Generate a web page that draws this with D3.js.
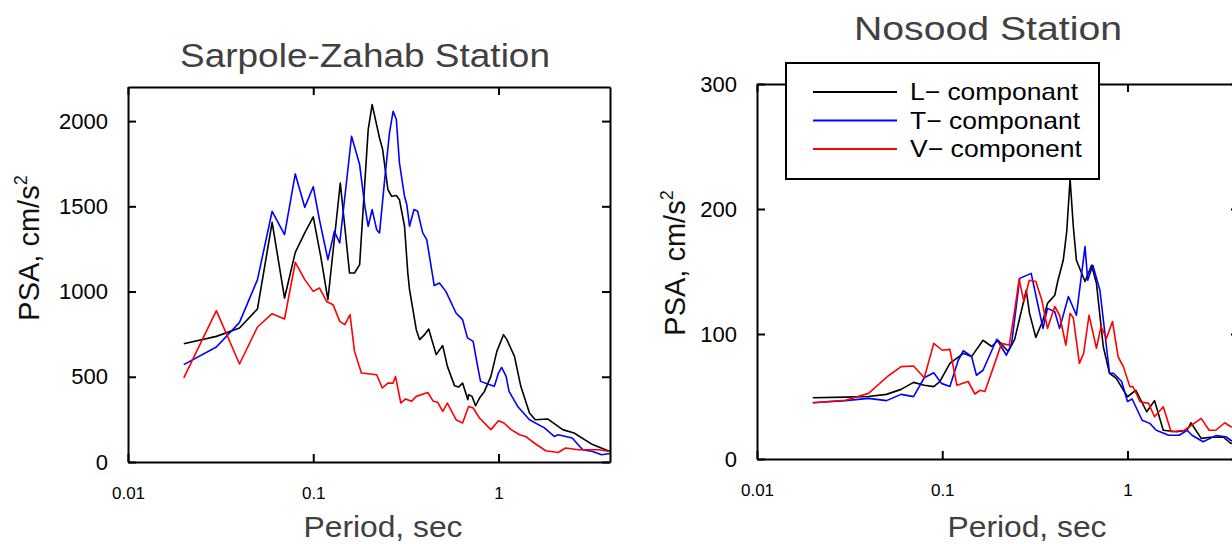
<!DOCTYPE html>
<html>
<head>
<meta charset="utf-8">
<script src="https://cdn.jsdelivr.net/npm/d3@7"></script>
<style>
body { margin: 0; background: #fff; }
text { font-family: "Liberation Sans", Arial, sans-serif; }
</style>
</head>
<body>
<div id="chart"></div>
<script>
// Sarpole-Zahab station, [period sec, PSA cm/s2]
var szL = [[0.02,694],[0.03,737],[0.04,786],[0.05,898],[0.06,1406],[0.07,962],[0.08,1230],[0.09,1344],[0.1,1438],[0.11,1200],[0.12,952],[0.14,1637],[0.157,1109],[0.167,1109],[0.178,1158],[0.198,1950],[0.208,2097],[0.228,1901],[0.237,1833],[0.253,1598],[0.265,1559],[0.281,1563],[0.292,1539],[0.311,1383],[0.324,1109],[0.331,1011],[0.36,776],[0.375,718],[0.399,747],[0.42,780],[0.461,630],[0.5,683],[0.53,561],[0.579,448],[0.61,440],[0.64,463],[0.683,366],[0.69,395],[0.72,385],[0.752,330],[0.79,375],[0.84,414],[0.91,502],[0.98,649],[1.064,747],[1.11,718],[1.22,620],[1.32,444],[1.47,288],[1.58,248],[1.85,252],[2.22,190],[2.56,170],[3.22,102],[4,62]];
var szT = [[0.02,571],[0.03,675],[0.04,819],[0.05,1070],[0.06,1471],[0.07,1334],[0.08,1690],[0.09,1494],[0.1,1615],[0.108,1422],[0.12,1187],[0.13,1353],[0.139,1285],[0.161,1911],[0.178,1745],[0.19,1500],[0.198,1383],[0.208,1481],[0.22,1363],[0.228,1344],[0.243,1657],[0.258,1931],[0.27,2058],[0.281,2009],[0.292,1755],[0.311,1559],[0.32,1510],[0.331,1383],[0.35,1481],[0.366,1471],[0.39,1344],[0.41,1305],[0.45,1035],[0.48,1050],[0.52,1001],[0.59,874],[0.64,835],[0.68,728],[0.73,708],[0.76,600],[0.8,473],[0.89,454],[0.95,444],[1.0,522],[1.04,555],[1.1,502],[1.14,414],[1.27,326],[1.47,248],[1.77,200],[2.0,150],[2.1,160],[2.5,141],[2.85,72],[3.22,62],[3.6,43],[4,50]];
var szV = [[0.02,493],[0.03,888],[0.04,575],[0.05,792],[0.06,870],[0.07,839],[0.08,1171],[0.09,1070],[0.1,1001],[0.108,1021],[0.118,942],[0.128,923],[0.139,825],[0.148,806],[0.158,864],[0.167,649],[0.182,522],[0.198,518],[0.22,512],[0.236,434],[0.253,463],[0.27,463],[0.278,502],[0.297,346],[0.315,370],[0.34,356],[0.36,385],[0.415,408],[0.445,356],[0.47,350],[0.5,297],[0.53,346],[0.59,248],[0.64,229],[0.69,326],[0.73,317],[0.79,258],[0.91,190],[1.0,242],[1.07,229],[1.17,190],[1.3,160],[1.4,150],[1.58,107],[1.8,66],[2.1,56],[2.3,82],[2.7,72],[3.0,72],[3.5,72],[4,62]];

// Nosood station
var nsL = [[0.02,49],[0.03,49.5],[0.04,50],[0.05,51.7],[0.06,55.7],[0.07,61.3],[0.08,59],[0.09,57.9],[0.097,61.9],[0.11,76.5],[0.13,84.5],[0.144,81.9],[0.166,95],[0.185,90],[0.2,95],[0.227,86],[0.246,95.7],[0.268,119],[0.284,135],[0.296,116.5],[0.32,97.3],[0.35,111],[0.37,124.5],[0.405,131],[0.42,142],[0.45,159],[0.47,182],[0.49,224],[0.51,186],[0.53,159],[0.59,142],[0.64,155],[0.68,140.5],[0.74,90],[0.8,68.6],[0.87,64.5],[1.0,49.8],[1.11,55],[1.27,37.8],[1.4,46.7],[1.56,23],[1.84,21.8],[2.1,23],[2.2,29],[2.5,16.5],[2.8,17.4],[3.3,17.4],[3.6,12.6],[4,12]];
var nsT = [[0.02,45],[0.03,46.7],[0.04,48.5],[0.05,46.7],[0.06,51.7],[0.07,49.9],[0.08,65],[0.09,69],[0.099,60.5],[0.11,58],[0.122,79],[0.13,86.6],[0.144,82],[0.153,67],[0.166,71],[0.197,95.8],[0.222,83],[0.237,92.5],[0.262,144.5],[0.302,148.5],[0.33,122],[0.35,104.5],[0.37,120.5],[0.405,117.8],[0.43,104.5],[0.48,130],[0.53,115],[0.59,170],[0.61,143],[0.65,155],[0.71,135],[0.8,68.6],[0.84,68.6],[0.93,62],[1.0,46],[1.06,48],[1.2,31],[1.32,28.5],[1.43,23],[1.67,19],[1.9,19],[2.1,23],[2.23,19],[2.56,13.8],[3.0,18.7],[3.4,17.8],[3.6,15],[4,12]];
var nsV = [[0.02,45],[0.03,47],[0.04,52.5],[0.051,66.4],[0.06,73.9],[0.07,74.4],[0.08,65],[0.09,92.5],[0.1,87],[0.11,87.7],[0.12,59],[0.138,62],[0.15,52],[0.16,55],[0.17,54],[0.192,76.5],[0.209,92.5],[0.23,91],[0.246,119],[0.26,143.7],[0.276,126],[0.295,143],[0.32,142],[0.345,127],[0.37,104.5],[0.405,122],[0.43,115],[0.465,91],[0.49,116.5],[0.51,113],[0.55,76.5],[0.58,84.5],[0.62,115],[0.68,88.6],[0.72,106],[0.77,96.5],[0.83,110],[0.89,81.8],[0.95,73.9],[1.03,57.9],[1.07,58],[1.17,45.8],[1.3,44.5],[1.4,33.8],[1.56,41.8],[1.72,21.8],[2.03,23],[2.5,32.5],[2.76,23],[3.0,23],[3.35,29],[3.6,26],[4,25]];

var xTicks = [0.01, 0.1, 1];
var szYTicks = [0, 500, 1000, 1500, 2000];
var nsYTicks = [0, 100, 200, 300];
var legendNames = ["L\u2212 componant", "T\u2212 componant", "V\u2212 component"];
var colors = ["#000000", "#0000ff", "#ff0000"];

var svg = d3.select("#chart").append("svg")
	.attr("width", 1232)
	.attr("height", 544);

function panel(p) {
	var x = d3.scaleLog().domain([0.01, 4]).range([p.left, p.right]);
	var y = d3.scaleLinear().domain([0, p.yMax]).range([p.bottom, p.top]);
	var g = svg.append("g");

	var line = d3.line()
		.x(function(d) {return x(d[0]);})
		.y(function(d) {return y(d[1]);});

	g.append("g").selectAll("path")
		.data(p.series)
		.enter().append("path")
		.attr("d", line)
		.attr("fill", "none")
		.attr("stroke", function(d, i) {return colors[i];})
		.attr("stroke-width", 1.6)
		.attr("stroke-linejoin", "round");

	// bottom / top / left / right axes, ticks pointing inward
	var bottom = g.append("g")
		.attr("transform", "translate(0," + p.bottom + ")")
		.call(d3.axisBottom(x).tickValues(xTicks).tickSizeInner(-8).tickSizeOuter(0).tickPadding(25)
			.tickFormat(function(d) {return d;}));
	bottom.selectAll("text").attr("font-size", 17).attr("fill", "#000");

	g.append("g")
		.attr("transform", "translate(0," + p.top + ")")
		.call(d3.axisTop(x).tickValues(xTicks).tickSizeInner(-8).tickSizeOuter(0).tickFormat(""));

	var left = g.append("g")
		.attr("transform", "translate(" + p.left + ",0)")
		.call(d3.axisLeft(y).tickValues(p.yTicks).tickSizeInner(-8).tickSizeOuter(0).tickPadding(20)
			.tickFormat(d3.format("d")));
	left.selectAll("text").attr("font-size", 22).attr("fill", "#000");

	g.append("g")
		.attr("transform", "translate(" + p.right + ",0)")
		.call(d3.axisRight(y).tickValues(p.yTicks).tickSizeInner(-8).tickSizeOuter(0).tickFormat(""));

	g.selectAll(".domain").attr("stroke", "#000").attr("stroke-width", 2);
	g.selectAll(".tick line").attr("stroke", "#000").attr("stroke-width", 2);

	// titles
	g.append("text")
		.attr("x", p.titleX).attr("y", p.titleY)
		.attr("text-anchor", "middle")
		.attr("font-size", 33)
		.attr("fill", "#404040")
		.attr("textLength", p.titleLen)
		.attr("lengthAdjust", "spacingAndGlyphs")
		.text(p.title);

	g.append("text")
		.attr("x", p.xLabelX).attr("y", 537)
		.attr("text-anchor", "middle")
		.attr("font-size", 30)
		.attr("fill", "#404040")
		.attr("textLength", 159)
		.attr("lengthAdjust", "spacingAndGlyphs")
		.text("Period, sec");

	var yl = g.append("text")
		.attr("transform", "translate(" + p.yLabelX + "," + p.yLabelY + ") rotate(-90)")
		.attr("text-anchor", "middle")
		.attr("font-size", 29)
		.attr("fill", "#111");
	yl.append("tspan").text("PSA, cm/s");
	yl.append("tspan").attr("font-size", 18).attr("dy", -12).text("2");

	return {x: x, y: y, g: g};
}

panel({
	left: 128, right: 610, top: 87, bottom: 462, yMax: 2200,
	yTicks: szYTicks, series: [szL, szT, szV],
	title: "Sarpole-Zahab Station", titleX: 365, titleY: 67, titleLen: 370,
	xLabelX: 383, yLabelX: 39, yLabelY: 248
});

panel({
	left: 757, right: 1239, top: 84, bottom: 459, yMax: 300,
	yTicks: nsYTicks, series: [nsL, nsT, nsV],
	title: "Nosood Station", titleX: 988, titleY: 40, titleLen: 268,
	xLabelX: 1027, yLabelX: 685, yLabelY: 263
});

// legend
var legend = svg.append("g");
legend.append("rect")
	.attr("x", 786).attr("y", 63)
	.attr("width", 313).attr("height", 116)
	.attr("fill", "#fff")
	.attr("stroke", "#000")
	.attr("stroke-width", 2);

var legendLen = [168, 170, 172];

var rows = legend.selectAll(".row")
	.data(legendNames)
	.enter().append("g")
	.attr("transform", function(d, i) {return "translate(0," + (92 + i * 28.5) + ")";});

rows.append("line")
	.attr("x1", 813).attr("x2", 897)
	.attr("stroke", function(d, i) {return colors[i];})
	.attr("stroke-width", 1.8);

rows.append("text")
	.attr("x", 910)
	.attr("dy", "0.35em")
	.attr("font-size", 24)
	.attr("fill", "#000")
	.attr("textLength", function(d, i) {return legendLen[i];})
	.attr("lengthAdjust", "spacingAndGlyphs")
	.text(function(d) {return d;});
</script>
</body>
</html>
